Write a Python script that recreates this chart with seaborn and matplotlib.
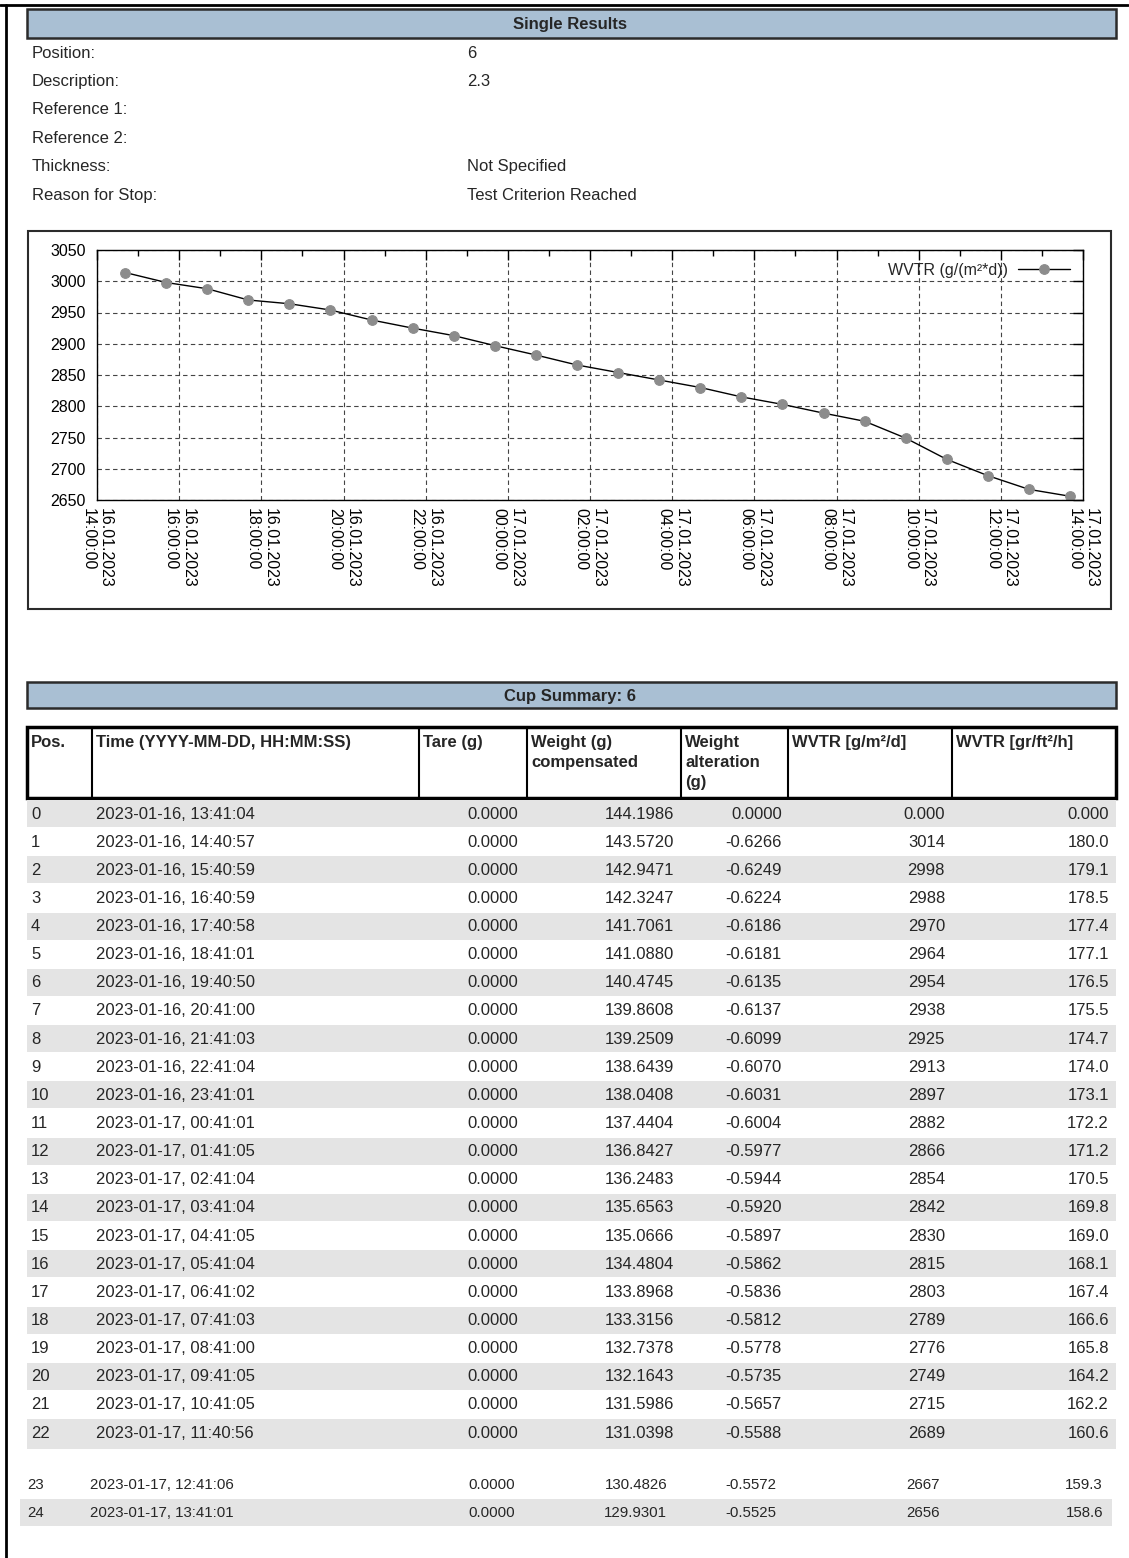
from __future__ import annotations

import matplotlib
matplotlib.use('Agg')
import matplotlib.dates as mdates
import matplotlib.pyplot as plt
from matplotlib.patches import Rectangle
from matplotlib.ticker import MultipleLocator
import pandas as pd
import seaborn as sns

sns.set_theme(style='white')
plt.rcParams['font.family'] = ['Liberation Sans', 'DejaVu Sans']

PAGE_W, PAGE_H = 1129, 1558
HEADER_BLUE = '#a9bfd3'
ROW_GREY = '#e4e4e4'
BODY_SIZE = 12

info_labels = ['Position:', 'Description:', 'Reference 1:', 'Reference 2:', 'Thickness:', 'Reason for Stop:']
info_values = ['6', '2.3', '', '', 'Not Specified', 'Test Criterion Reached']

column_headers = [
    'Pos.', 'Time (YYYY-MM-DD, HH:MM:SS)', 'Tare (g)', 'Weight (g)\ncompensated',
    'Weight\nalteration\n(g)', 'WVTR [g/m²/d]', 'WVTR [gr/ft²/h]',
]

positions = list(range(25))
times = [
    '2023-01-16, 13:41:04', '2023-01-16, 14:40:57', '2023-01-16, 15:40:59', '2023-01-16, 16:40:59',
    '2023-01-16, 17:40:58', '2023-01-16, 18:41:01', '2023-01-16, 19:40:50', '2023-01-16, 20:41:00',
    '2023-01-16, 21:41:03', '2023-01-16, 22:41:04', '2023-01-16, 23:41:01', '2023-01-17, 00:41:01',
    '2023-01-17, 01:41:05', '2023-01-17, 02:41:04', '2023-01-17, 03:41:04', '2023-01-17, 04:41:05',
    '2023-01-17, 05:41:04', '2023-01-17, 06:41:02', '2023-01-17, 07:41:03', '2023-01-17, 08:41:00',
    '2023-01-17, 09:41:05', '2023-01-17, 10:41:05', '2023-01-17, 11:40:56', '2023-01-17, 12:41:06',
    '2023-01-17, 13:41:01',
]
tare = [0.0, 0.0, 0.0, 0.0, 0.0, 0.0, 0.0, 0.0, 0.0, 0.0, 0.0, 0.0, 0.0,
        0.0, 0.0, 0.0, 0.0, 0.0, 0.0, 0.0, 0.0, 0.0, 0.0, 0.0, 0.0]
weight = [
    144.1986, 143.5720, 142.9471, 142.3247, 141.7061, 141.0880, 140.4745, 139.8608, 139.2509,
    138.6439, 138.0408, 137.4404, 136.8427, 136.2483, 135.6563, 135.0666, 134.4804, 133.8968,
    133.3156, 132.7378, 132.1643, 131.5986, 131.0398, 130.4826, 129.9301,
]
alteration = [
    0.0, -0.6266, -0.6249, -0.6224, -0.6186, -0.6181, -0.6135, -0.6137, -0.6099, -0.6070,
    -0.6031, -0.6004, -0.5977, -0.5944, -0.5920, -0.5897, -0.5862, -0.5836, -0.5812, -0.5778,
    -0.5735, -0.5657, -0.5588, -0.5572, -0.5525,
]
wvtr_gm2d = [
    0, 3014, 2998, 2988, 2970, 2964, 2954, 2938, 2925, 2913, 2897, 2882, 2866,
    2854, 2842, 2830, 2815, 2803, 2789, 2776, 2749, 2715, 2689, 2667, 2656,
]
wvtr_grft2h = [
    0.0, 180.0, 179.1, 178.5, 177.4, 177.1, 176.5, 175.5, 174.7, 174.0, 173.1, 172.2, 171.2,
    170.5, 169.8, 169.0, 168.1, 167.4, 166.6, 165.8, 164.2, 162.2, 160.6, 159.3, 158.6,
]

x_start = '2023-01-16 14:00:00'
x_end = '2023-01-17 14:00:00'
legend_label = 'WVTR (g/(m²*d))'

# page layout, in pixels from the top-left corner
COL_EDGES = [27, 92, 419, 527, 681, 788, 952, 1116]
FIRST_ROW_Y = 813
ROW_STEP = 28.14
PAGE_BREAK_AFTER = 22
SECOND_PAGE_Y = 1484


def fig_rect(x0: float, y0: float, x1: float, y1: float) -> list[float]:
    """Pixel box (top-left origin) -> figure fraction [left, bottom, width, height]."""
    return [x0 / PAGE_W, 1 - y1 / PAGE_H, (x1 - x0) / PAGE_W, (y1 - y0) / PAGE_H]


def banner(ax, y0: float, y1: float, title: str) -> None:
    ax.add_patch(Rectangle((27, y0), 1116 - 27, y1 - y0, facecolor=HEADER_BLUE, edgecolor='#2b2b2b', lw=1.8))
    ax.text(570, (y0 + y1) / 2 + 1, title, ha='center', va='center', fontsize=BODY_SIZE, fontweight='bold')


def fmt_row(i: int) -> list[str]:
    w1 = f'{wvtr_gm2d[i]:.3f}' if wvtr_gm2d[i] == 0 else f'{wvtr_gm2d[i]:.0f}'
    w2 = f'{wvtr_grft2h[i]:.3f}' if wvtr_grft2h[i] == 0 else f'{wvtr_grft2h[i]:.1f}'
    return [str(positions[i]), times[i], f'{tare[i]:.4f}', f'{weight[i]:.4f}', f'{alteration[i]:.4f}', w1, w2]


def draw_page(ax) -> None:
    ax.set_xlim(0, PAGE_W)
    ax.set_ylim(PAGE_H, 0)
    ax.axis('off')

    # page frame
    ax.plot([0, 1128], [5, 5], color='black', lw=2)
    ax.plot([6, 6], [5, PAGE_H], color='black', lw=2)

    banner(ax, 9, 38, 'Single Results')
    for k, (lab, val) in enumerate(zip(info_labels, info_values)):
        y = 53 + k * 28.4
        ax.text(32, y, lab, va='center', fontsize=BODY_SIZE)
        ax.text(467, y, val, va='center', fontsize=BODY_SIZE)

    # chart frame
    ax.add_patch(Rectangle((28, 231), 1111 - 28, 609 - 231, facecolor='white', edgecolor='#2b2b2b', lw=1.5))

    banner(ax, 682, 708, 'Cup Summary: 6')

    # table header
    ax.add_patch(Rectangle((27, 727), 1116 - 27, 798 - 727, facecolor='white', edgecolor='black', lw=2.5))
    for x in COL_EDGES[1:-1]:
        ax.plot([x, x], [727, 798], color='black', lw=1.5)
    for x, head in zip(COL_EDGES[:-1], column_headers):
        ax.text(x + 4, 735, head, ha='left', va='top', fontsize=BODY_SIZE, fontweight='bold', linespacing=1.4)

    # rows on the first page
    aligns = ['left', 'left', 'right', 'right', 'right', 'right', 'right']
    xs = [31, 96, 518, 674, 782, 945, 1109]
    for i in range(PAGE_BREAK_AFTER + 1):
        y = FIRST_ROW_Y + i * ROW_STEP
        if i % 2 == 0:
            bottom = y + (17 if i == PAGE_BREAK_AFTER else 14)
            ax.add_patch(Rectangle((27, y - 13), 1116 - 27, bottom - (y - 13), facecolor=ROW_GREY, lw=0))
        for x, ha, txt in zip(xs, aligns, fmt_row(i)):
            ax.text(x, y + 1, txt, ha=ha, va='center', fontsize=BODY_SIZE)

    # rows carried over to the next page
    xs2 = [27, 90, 515, 667, 776, 940, 1103]
    for j, i in enumerate(range(PAGE_BREAK_AFTER + 1, len(positions))):
        y = SECOND_PAGE_Y + j * 28
        if i % 2 == 0:
            ax.add_patch(Rectangle((20, y - 13), 1112 - 20, 27, facecolor=ROW_GREY, lw=0))
        for x, ha, txt in zip(xs2, aligns, fmt_row(i)):
            ax.text(x, y + 1, txt, ha=ha, va='center', fontsize=10.8)


def draw_chart(fig) -> None:
    ax = fig.add_axes(fig_rect(97, 250, 1083, 500))
    df = pd.DataFrame({
        'time': pd.to_datetime(times, format='%Y-%m-%d, %H:%M:%S'),
        'wvtr': wvtr_gm2d,
    }).iloc[1:]
    sns.lineplot(
        data=df, x='time', y='wvtr', ax=ax, color='black', lw=1.0, marker='o', markersize=7,
        markerfacecolor='#8c8c8c', markeredgecolor='#8c8c8c', label=legend_label,
    )
    ax.set_xlim(pd.Timestamp(x_start), pd.Timestamp(x_end))
    ax.set_ylim(2650, 3050)
    ax.set_xlabel('')
    ax.set_ylabel('')
    ax.yaxis.set_major_locator(MultipleLocator(50))
    ax.xaxis.set_major_locator(mdates.HourLocator(byhour=range(0, 24, 2)))
    ax.xaxis.set_minor_locator(mdates.HourLocator())
    ax.xaxis.set_major_formatter(mdates.DateFormatter('%d.%m.%Y\n%H:%M:%S'))
    ax.grid(True, which='major', color='#444444', lw=0.8, ls=(0, (4, 3)))
    ax.tick_params(which='both', direction='in', top=True, right=True, color='black', labelsize=11.5, labelcolor='black')
    ax.tick_params(which='major', length=7, width=1)
    ax.tick_params(which='minor', length=4, width=1)
    ax.tick_params(axis='x', pad=6)
    ax.tick_params(axis='y', pad=8)
    for lab in ax.get_xticklabels():
        lab.set_rotation(270)
        lab.set_ha('center')
        lab.set_va('top')
        lab.set_multialignment('left')
    for spine in ax.spines.values():
        spine.set_color('black')
        spine.set_linewidth(1)
    ax.legend(loc='upper right', frameon=False, markerfirst=False, fontsize=11.5,
              handlelength=3.3, borderaxespad=0.4, handletextpad=0.6)


def main() -> None:
    fig = plt.figure(figsize=(PAGE_W / 100, PAGE_H / 100), dpi=100)
    page = fig.add_axes([0, 0, 1, 1])
    draw_page(page)
    draw_chart(fig)
    fig.savefig('out.png', dpi=100, facecolor='white')


if __name__ == '__main__':
    main()
